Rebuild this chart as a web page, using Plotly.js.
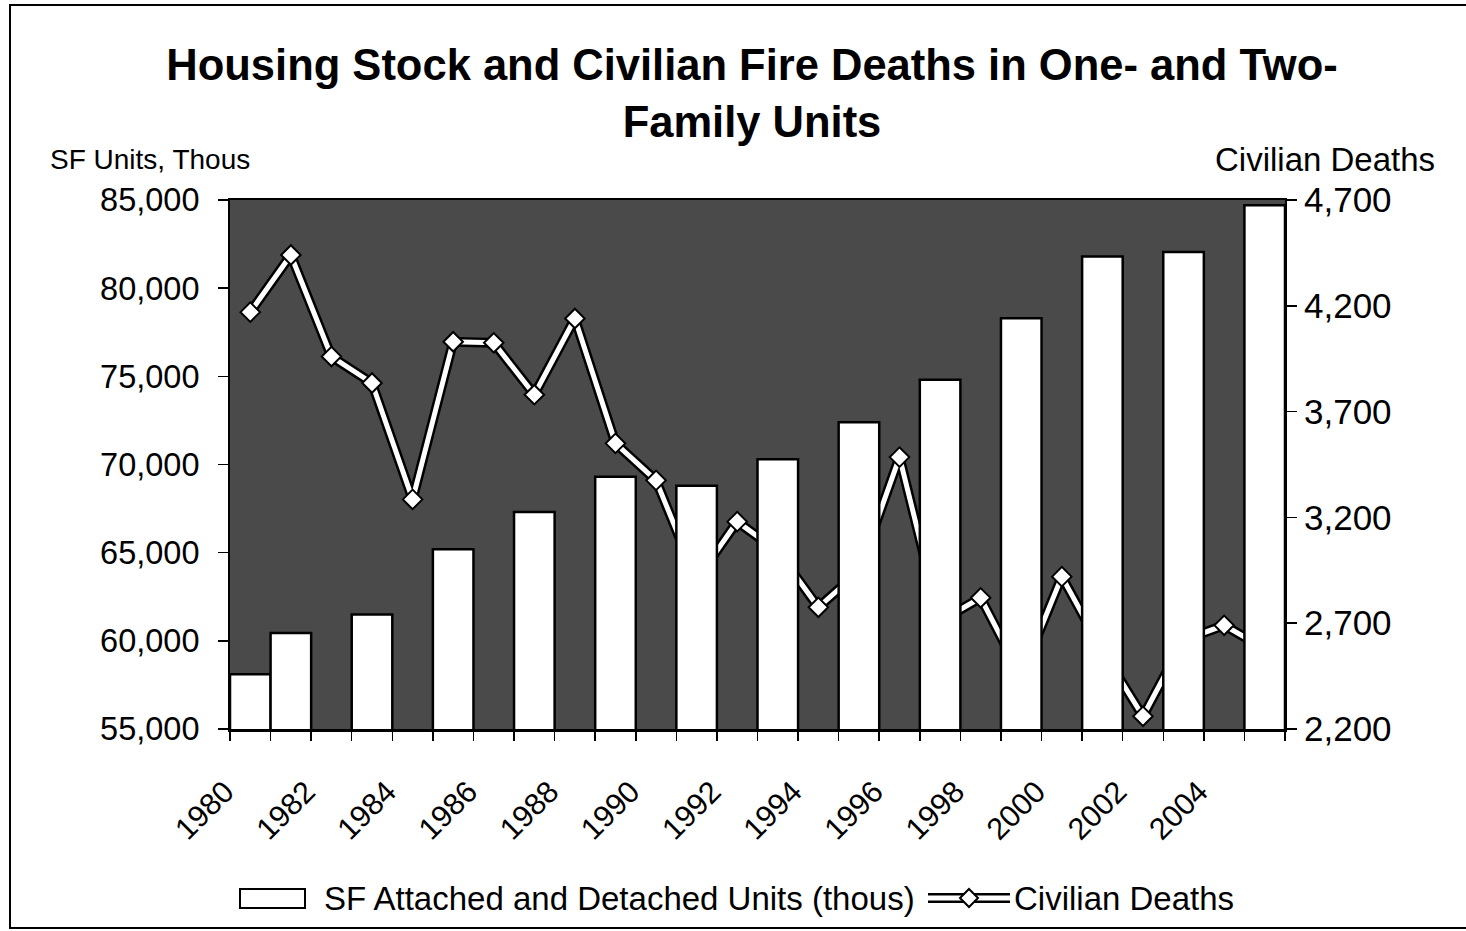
<!DOCTYPE html>
<html>
<head>
<meta charset="utf-8">
<script src="https://cdn.plot.ly/plotly-3.0.1.min.js"></script>
<style>
  html, body { margin: 0; padding: 0; background: #ffffff; }
  #chart { width: 1466px; height: 931px; }
</style>
</head>
<body>
<div id="chart"></div>
<script>
// ---- Data ----
const barYears = [1980, 1981, 1983, 1985, 1987, 1989, 1991, 1993, 1995, 1997, 1999, 2001, 2003, 2005];
const sfUnitsThous = [58100, 60450, 61500, 65200, 67300, 69300, 68800, 70300, 72400, 74800, 78300, 81800, 82050, 84700];

const deathYears = [1980, 1981, 1982, 1983, 1984, 1985, 1986, 1987, 1988, 1989, 1990, 1991, 1992,
                    1993, 1994, 1995, 1996, 1997, 1998, 1999, 2000, 2001, 2002, 2003, 2004, 2005];
const civilianDeaths = [4170, 4440, 3960, 3835, 3285, 4030, 4025, 3780, 4140, 3550, 3375, 2905, 3180,
                        3040, 2775, 2945, 3485, 2710, 2820, 2450, 2920, 2570, 2260, 2620, 2690, 2580];

const xTickLabels = ['1980', '1982', '1984', '1986', '1988', '1990', '1992', '1994', '1996', '1998', '2000', '2002', '2004'];

const barName = 'SF Attached and Detached Units (thous)';
const lineName = 'Civilian Deaths';
const titleText = 'Housing Stock and Civilian Fire Deaths in One- and Two-<br>Family Units';

// ---- Build ticks at category boundaries ----
const firstYear = deathYears[0];
const lastYear = deathYears[deathYears.length - 1];
const tickVals = [];
const tickText = [];
for (let y = firstYear; y <= lastYear + 1; y++) {
  tickVals.push(y - 0.5);
  const lbl = String(y);
  tickText.push(xTickLabels.indexOf(lbl) >= 0 ? lbl : '');
}

const FONT = 'Liberation Sans, Arial, Helvetica, sans-serif';

const traces = [
  { // black outline of the deaths line
    type: 'scatter', mode: 'lines', x: deathYears, y: civilianDeaths,
    xaxis: 'x', yaxis: 'y',
    line: { color: '#000000', width: 10 },
    showlegend: false, hoverinfo: 'skip'
  },
  { // white core + diamond markers
    type: 'scatter', mode: 'lines+markers', x: deathYears, y: civilianDeaths,
    xaxis: 'x', yaxis: 'y', name: lineName,
    line: { color: '#ffffff', width: 5 },
    marker: { symbol: 'diamond', size: 15, color: '#ffffff', line: { color: '#000000', width: 2 } },
    showlegend: false
  },
  { // bars (drawn above the line, on overlaying axis)
    type: 'bar', x: barYears, y: sfUnitsThous, width: 1,
    xaxis: 'x', yaxis: 'y2', name: barName,
    marker: { color: '#ffffff', line: { color: '#000000', width: 2.5 } },
    showlegend: false
  }
];

// paper-coordinate helpers (plot area: x 230..1285, y 200..729)
const L = 230, R = 1285, T = 200, B = 729;
const px = v => (v - L) / (R - L);
const py = v => (B - v) / (B - T);

const legY = py(898);
const shapes = [
  // outer frame
  { type: 'rect', xref: 'paper', yref: 'paper', x0: px(10), x1: px(1475), y0: py(928), y1: py(5),
    line: { color: '#000000', width: 2 }, fillcolor: 'rgba(0,0,0,0)', layer: 'below' },
  // legend: bar swatch
  { type: 'rect', xref: 'paper', yref: 'paper', x0: px(240), x1: px(305), y0: py(908), y1: py(889),
    line: { color: '#000000', width: 2 }, fillcolor: '#ffffff' },
  // legend: line swatch
  { type: 'line', xref: 'paper', yref: 'paper', x0: px(928), x1: px(1010), y0: legY, y1: legY,
    line: { color: '#000000', width: 10 } },
  { type: 'line', xref: 'paper', yref: 'paper', x0: px(928), x1: px(1010), y0: legY, y1: legY,
    line: { color: '#ffffff', width: 5 } },
  { type: 'path', xref: 'paper', yref: 'paper',
    path: 'M ' + px(960) + ',' + legY + ' L ' + px(969) + ',' + py(889) + ' L ' + px(978) + ',' + legY +
          ' L ' + px(969) + ',' + py(907) + ' Z',
    line: { color: '#000000', width: 2 }, fillcolor: '#ffffff' }
];

const annotations = [
  { text: 'SF Units, Thous', xref: 'paper', yref: 'paper', x: px(48), y: py(160),
    xanchor: 'left', yanchor: 'middle', showarrow: false, font: { family: FONT, size: 28, color: '#000' } },
  { text: 'Civilian Deaths', xref: 'paper', yref: 'paper', x: px(1437), y: py(160),
    xanchor: 'right', yanchor: 'middle', showarrow: false, font: { family: FONT, size: 33, color: '#000' } },
  { text: barName, xref: 'paper', yref: 'paper', x: px(322), y: legY,
    xanchor: 'left', yanchor: 'middle', showarrow: false, font: { family: FONT, size: 33, color: '#000' } },
  { text: lineName, xref: 'paper', yref: 'paper', x: px(1012), y: legY,
    xanchor: 'left', yanchor: 'middle', showarrow: false, font: { family: FONT, size: 33, color: '#000' } }
];

const layout = {
  width: 1466, height: 931,
  margin: { l: L, r: 1466 - R, t: T, b: 931 - B, pad: 0 },
  paper_bgcolor: '#ffffff',
  plot_bgcolor: '#4a4a4a',
  showlegend: false,
  title: {
    text: titleText, x: px(752), xref: 'paper', xanchor: 'center',
    y: 1 - 80 / 931, yanchor: 'middle',
    font: { family: FONT, size: 43.5, color: '#000', weight: 'bold' }
  },
  xaxis: {
    type: 'linear', range: [firstYear - 0.5, lastYear + 0.5],
    tickmode: 'array', tickvals: tickVals, ticktext: tickText, tickangle: -45,
    ticks: 'outside', ticklen: 9, tickwidth: 1.5, tickcolor: '#000',
    ticklabelstandoff: 21, ticklabelshift: -5,
    showline: true, linecolor: '#000', linewidth: 2.5, mirror: true,
    showgrid: false, zeroline: false,
    tickfont: { family: FONT, size: 30.5, color: '#000' }
  },
  yaxis: {
    side: 'right', range: [2200, 4700], tickmode: 'linear', tick0: 2200, dtick: 500,
    tickformat: ',d', ticks: 'outside', ticklen: 10, tickwidth: 1.5, tickcolor: '#000',
    showline: true, linecolor: '#000', linewidth: 2,
    showgrid: false, zeroline: false,
    tickfont: { family: FONT, size: 35, color: '#000' }
  },
  yaxis2: {
    overlaying: 'y', side: 'left', range: [55000, 85000], tickmode: 'linear', tick0: 55000, dtick: 5000,
    tickformat: ',d', ticks: 'outside', ticklen: 10, tickwidth: 1.5, tickcolor: '#000',
    ticklabelstandoff: 12,
    showline: true, linecolor: '#000', linewidth: 2,
    showgrid: false, zeroline: false,
    tickfont: { family: FONT, size: 32.5, color: '#000' }
  },
  shapes: shapes,
  annotations: annotations,
  bargap: 0
};

Plotly.newPlot('chart', traces, layout, { staticPlot: true, displayModeBar: false });
</script>
</body>
</html>
